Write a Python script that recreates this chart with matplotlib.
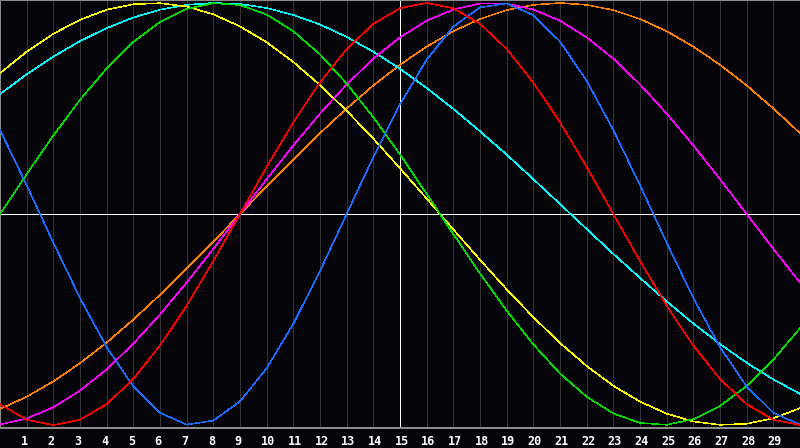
import numpy as np
import matplotlib
matplotlib.use("Agg")
import matplotlib.pyplot as plt
import matplotlib.transforms as mtransforms

# day axis and daily cycle values
days = list(range(0, 31))
day_labels = [str(d) for d in range(1, 30)]

blue = [0.398, 0.136, -0.136, -0.398, -0.631, -0.817, -0.942, -0.998, -0.979, -0.888,
        -0.731, -0.520, -0.270, 0.0, 0.270, 0.520, 0.731, 0.888, 0.979, 0.998,
        0.942, 0.817, 0.631, 0.398, 0.136, -0.136, -0.398, -0.631, -0.817, -0.942, -0.998]
red = [-0.901, -0.975, -1.0, -0.975, -0.901, -0.782, -0.623, -0.434, -0.223, 0.0,
       0.223, 0.434, 0.623, 0.782, 0.901, 0.975, 1.0, 0.975, 0.901, 0.782,
       0.623, 0.434, 0.223, 0.0, -0.223, -0.434, -0.623, -0.782, -0.901, -0.975, -1.0]
green = [0.0, 0.189, 0.372, 0.541, 0.690, 0.815, 0.910, 0.972, 0.999, 0.990,
         0.945, 0.866, 0.756, 0.618, 0.458, 0.282, 0.095, -0.095, -0.282, -0.458,
         -0.618, -0.756, -0.866, -0.945, -0.990, -0.999, -0.972, -0.910, -0.815, -0.690, -0.541]
magenta = [-0.997, -0.969, -0.916, -0.837, -0.736, -0.614, -0.476, -0.325, -0.165, 0.0,
           0.165, 0.325, 0.476, 0.614, 0.736, 0.837, 0.916, 0.969, 0.997, 0.997,
           0.969, 0.916, 0.837, 0.736, 0.614, 0.476, 0.325, 0.165, 0.0, -0.165, -0.325]
yellow = [0.667, 0.769, 0.854, 0.920, 0.968, 0.994, 0.999, 0.983, 0.946, 0.889,
          0.814, 0.720, 0.611, 0.489, 0.357, 0.217, 0.073, -0.073, -0.217, -0.357,
          -0.489, -0.611, -0.720, -0.814, -0.889, -0.946, -0.983, -0.999, -0.994, -0.968, -0.920]
orange = [-0.924, -0.866, -0.793, -0.707, -0.609, -0.5, -0.383, -0.259, -0.131, 0.0,
          0.131, 0.259, 0.383, 0.5, 0.609, 0.707, 0.793, 0.866, 0.924, 0.966,
          0.991, 1.0, 0.991, 0.966, 0.924, 0.866, 0.793, 0.707, 0.609, 0.5, 0.383]
cyan = [0.568, 0.662, 0.746, 0.819, 0.881, 0.931, 0.968, 0.991, 1.0, 0.995,
        0.976, 0.943, 0.898, 0.839, 0.769, 0.688, 0.597, 0.498, 0.392, 0.281,
        0.165, 0.047, -0.071, -0.189, -0.303, -0.414, -0.519, -0.616, -0.705, -0.784, -0.852]

series = [
    (orange, '#ff8000'),
    (cyan, '#00ffff'),
    (magenta, '#ff00ff'),
    (yellow, '#ffff00'),
    (green, '#00dc00'),
    (blue, '#1a6bff'),
    (red, '#ff0000'),
]

bg = '#050409'
px = 72 / 100  # one pixel in points
fig = plt.figure(figsize=(8, 4.48), dpi=100, facecolor=bg)
ax = fig.add_axes([0, 20 / 448, 1, 428 / 448])
ax.set_facecolor(bg)
ax.set_xlim(0, 30)
ax.set_ylim(-1.014, 1.014)

# vertical day grid
for d in range(1, 30):
    ax.axvline(d, color='#353535', lw=px, zorder=1, antialiased=False)

ax.axhline(0, color='white', lw=px, zorder=2, antialiased=False)
ax.axvline(15, color='white', lw=px, zorder=2, antialiased=False)

for vals, col in series:
    ax.plot(days, vals, color=col, lw=0.55 * px, zorder=3, antialiased=False)

for side in ['left', 'top', 'bottom']:
    ax.spines[side].set_color('#8c8c8c')
    ax.spines[side].set_linewidth(2 * px)
ax.spines['right'].set_visible(False)

ax.set_yticks([])
ax.set_xticks(range(1, 30))
ax.set_xticklabels(day_labels, color='white', fontsize=8.5, fontweight='bold',
                   family='DejaVu Sans Mono', ha='left')
ax.tick_params(axis='x', length=0, pad=5)
shift = mtransforms.ScaledTranslation(-5.5 / 100, 0, fig.dpi_scale_trans)
for lab in ax.get_xticklabels():
    lab.set_transform(lab.get_transform() + shift)

fig.savefig('out.png', dpi=100, facecolor=bg)
